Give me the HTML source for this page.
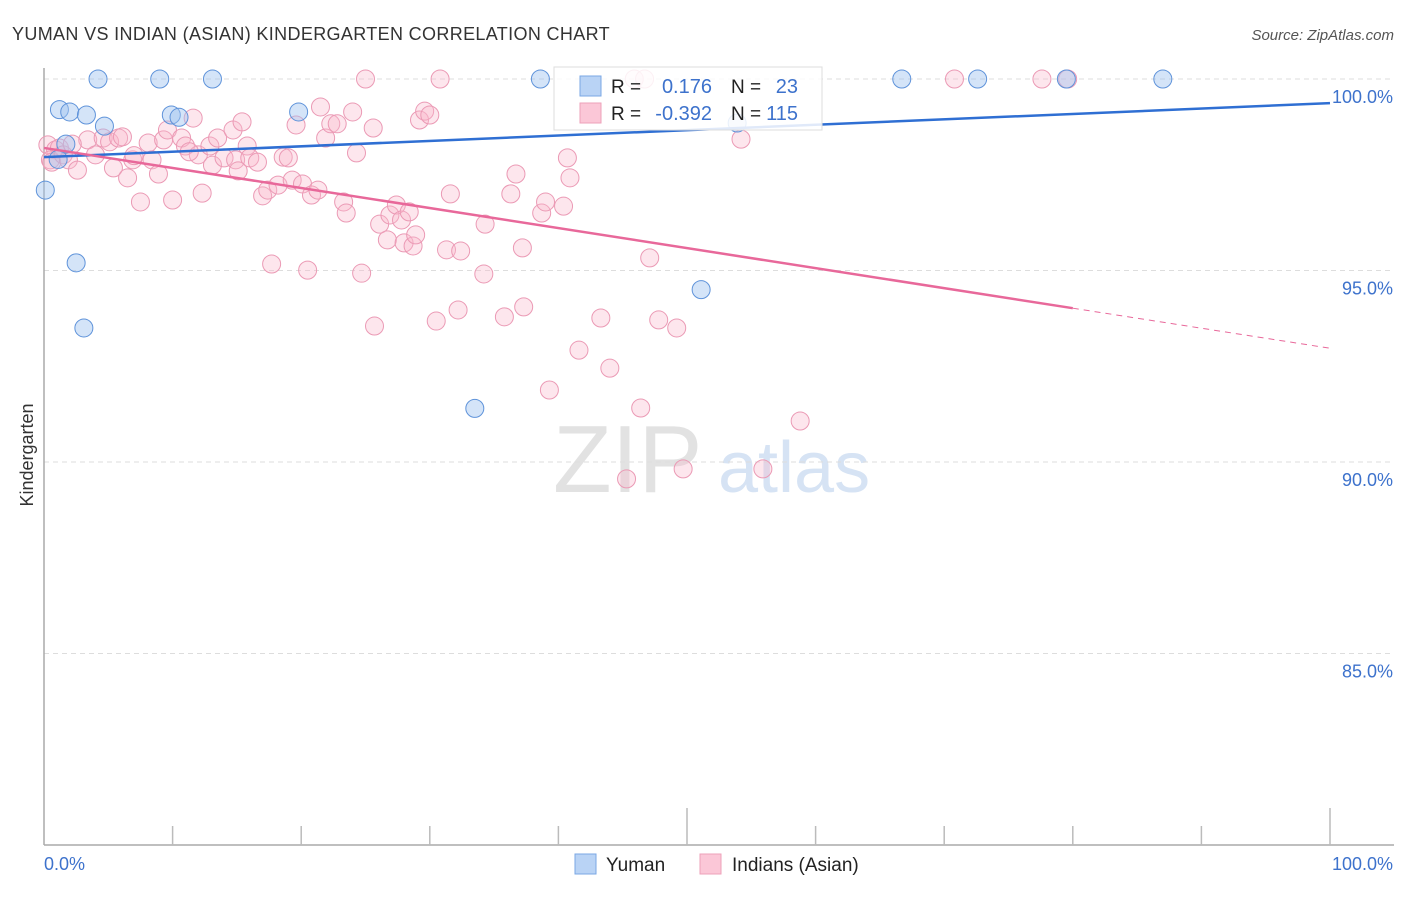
<!DOCTYPE html>
<html><head><meta charset="utf-8"><style>
body{margin:0;background:#fff;width:1406px;height:892px;overflow:hidden;font-family:"Liberation Sans",sans-serif}
svg text{font-family:"Liberation Sans",sans-serif}
</style></head><body>
<svg id="c" width="1406" height="892" xmlns="http://www.w3.org/2000/svg">
<text x="12" y="40" font-size="18" fill="#333" letter-spacing="0.35">YUMAN VS INDIAN (ASIAN) KINDERGARTEN CORRELATION CHART</text>
<text x="1394" y="40" font-size="15" fill="#555" font-style="italic" text-anchor="end">Source: ZipAtlas.com</text>
<text transform="translate(33,455) rotate(-90)" font-size="18" fill="#333" text-anchor="middle">Kindergarten</text>
<g>
<text x="553" y="492" font-size="96" fill="#e2e2e2" font-family="Liberation Serif,serif">ZIP</text>
<text x="718" y="492" font-size="72" fill="#d6e3f4">atlas</text>
</g>
<g id="grid"></g><g id="axes"></g><g id="marks"></g>
<g>
<rect x="554" y="67" width="268" height="63" fill="#fff" fill-opacity="0.85" stroke="#ddd"/>
<rect x="580" y="76" width="21" height="20" fill="#b9d3f5" stroke="#7aa7e4"/>
<rect x="580" y="103" width="21" height="20" fill="#fbc7d7" stroke="#eea0ba"/>
<text x="611" y="93" font-size="19" fill="#222">R =</text>
<text x="712" y="93" font-size="20" fill="#3d72cc" text-anchor="end">0.176</text>
<text x="731" y="93" font-size="19" fill="#222">N =</text>
<text x="798" y="93" font-size="20" fill="#3d72cc" text-anchor="end">23</text>
<text x="611" y="120" font-size="19" fill="#222">R =</text>
<text x="712" y="120" font-size="20" fill="#3d72cc" text-anchor="end">-0.392</text>
<text x="731" y="120" font-size="19" fill="#222">N =</text>
<text x="798" y="120" font-size="20" fill="#3d72cc" text-anchor="end">115</text>
</g>
<g>
<rect x="575" y="854" width="21" height="20" fill="#b9d3f5" stroke="#7aa7e4"/>
<text x="606" y="871" font-size="19" fill="#222">Yuman</text>
<rect x="700" y="854" width="21" height="20" fill="#fbc7d7" stroke="#eea0ba"/>
<text x="732" y="871" font-size="19" fill="#222">Indians (Asian)</text>
</g>
</svg>
<script>
const yTicks=[100,95,90,85];
const yTickLabels=["100.0%","95.0%","90.0%","85.0%"];
const xTickLabels=["0.0%","100.0%"];
const yumanX=[4.2,9.0,13.1,38.6,66.7,72.6,79.5,87.0,1.2,2.0,3.3,4.7,9.9,10.5,19.8,53.9,1.7,1.1,0.1,2.5,3.1,33.5,51.1];
const yumanY=[100,100,100,100,100,100,100,100,99.2,99.14,99.06,98.77,99.06,99.0,99.14,98.85,98.3,97.9,97.1,95.2,93.5,91.4,94.5];
const indX=[25.0,30.8,45.9,46.7,70.8,77.6,79.6,0.3,0.9,1.2,0.5,0.6,1.5,1.9,2.6,3.4,4.0,4.6,5.1,5.8,6.1,5.4,6.5,6.9,7.5,8.1,8.4,8.9,9.3,9.6,10.0,10.7,11.0,11.6,12.0,12.3,12.9,13.1,13.5,14.0,14.7,14.9,15.4,15.8,16.0,16.6,17.0,17.4,17.7,18.2,18.6,19.0,19.3,19.6,20.1,20.5,20.8,21.3,21.5,21.9,22.3,22.8,23.3,23.5,24.0,24.3,24.7,25.6,25.7,26.1,26.7,26.9,27.4,27.8,28.0,28.4,28.7,28.9,29.2,29.6,30.0,30.5,31.3,31.6,32.2,32.4,34.2,34.3,35.8,36.3,36.7,37.2,37.3,38.7,39.0,39.3,40.4,40.7,40.9,41.6,43.3,44.0,46.4,47.1,47.8,49.2,45.3,49.7,54.2,55.9,58.8,2.2,7.0,11.3,15.1];
const indY=[100,100,100,100,100,100,100,98.28,98.15,98.2,97.89,97.83,98.02,97.89,97.62,98.41,98.02,98.46,98.36,98.46,98.49,97.68,97.42,97.89,96.79,98.33,97.89,97.52,98.41,98.67,96.84,98.46,98.25,98.98,98.02,97.02,98.25,97.75,98.46,97.94,98.67,97.89,98.88,98.25,97.94,97.83,96.95,97.10,95.17,97.23,97.96,97.94,97.36,98.80,97.26,95.01,96.97,97.10,99.27,98.46,98.83,98.83,96.79,96.50,99.14,98.07,94.93,98.72,93.55,96.21,95.80,96.45,96.71,96.32,95.72,96.53,95.64,95.93,98.93,99.16,99.06,93.68,95.54,97.0,93.97,95.51,94.91,96.21,93.79,97.0,97.52,95.59,94.05,96.50,96.79,91.88,96.68,97.94,97.42,92.92,93.76,92.45,91.41,95.33,93.71,93.5,89.56,89.82,98.43,89.82,91.07,98.3,98.0,98.1,97.6];
const yumanTrend=[97.96,99.37];
const indTrend=[98.2,92.97];
const indSolidEnd=80;

const X0=44,X1=1330,YTOP=79,YPX=38.3;
const sx=v=>X0+(X1-X0)*v/100;
const sy=v=>YTOP+(100-v)*YPX;
const NS="http://www.w3.org/2000/svg";
function mk(tag,attrs,parent){const e=document.createElementNS(NS,tag);for(const k in attrs)e.setAttribute(k,attrs[k]);parent.appendChild(e);return e;}
const grid=document.getElementById('grid'),axes=document.getElementById('axes'),marks=document.getElementById('marks');
yTicks.forEach((t,i)=>{
 const l=mk('line',{x1:X0,x2:1394,y1:sy(t),y2:sy(t),stroke:'#ddd','stroke-dasharray':'5,4'},grid);
 
 
 const tx=mk('text',{x:1393,y:sy(t)+24,'font-size':18,fill:'#3d72cc','text-anchor':'end'},axes);
 tx.textContent=yTickLabels[i];
 
 
});
const ya=mk('line',{x1:X0,x2:X0,y1:68,y2:845,stroke:'#aaa','stroke-width':1.5},axes);


const xa=mk('line',{x1:X0,x2:1394,y1:845,y2:845,stroke:'#aaa','stroke-width':1.5},axes);


for(let i=1;i<=10;i++){
 const t=mk('line',{x1:sx(i*10),x2:sx(i*10),y1:i==5||i==10?808:826,y2:845,stroke:'#bbb','stroke-width':1.5},axes);
 
 
}
[[0,'start',44],[100,'end',1393]].forEach((a,i)=>{
 const tx=mk('text',{x:a[2],y:870,'font-size':18,fill:'#3d72cc','text-anchor':a[1]},axes);
 tx.textContent=xTickLabels[i];
 
 
});
indX.forEach((v,i)=>{
 const c=mk('circle',{cx:sx(v),cy:sy(indY[i]),r:9,fill:'rgba(248,182,204,0.35)',stroke:'#eb9ab5','stroke-width':1},marks);
 
 
});
yumanX.forEach((v,i)=>{
 const c=mk('circle',{cx:sx(v),cy:sy(yumanY[i]),r:9,fill:'rgba(160,196,240,0.45)',stroke:'#5f93da','stroke-width':1},marks);
 
 
});
const bl=mk('line',{x1:sx(0),y1:sy(yumanTrend[0]),x2:sx(100),y2:sy(yumanTrend[1]),stroke:'#2f6fd3','stroke-width':2.5},marks);


const pm=indTrend[0]+(indTrend[1]-indTrend[0])*indSolidEnd/100;
const pl=mk('line',{x1:sx(0),y1:sy(indTrend[0]),x2:sx(indSolidEnd),y2:sy(pm),stroke:'#e8689a','stroke-width':2.5},marks);


const pd=mk('line',{x1:sx(indSolidEnd),y1:sy(pm),x2:sx(100),y2:sy(indTrend[1]),stroke:'#e8689a','stroke-width':1,'stroke-dasharray':'6,5'},marks);


</script>
</body></html>
